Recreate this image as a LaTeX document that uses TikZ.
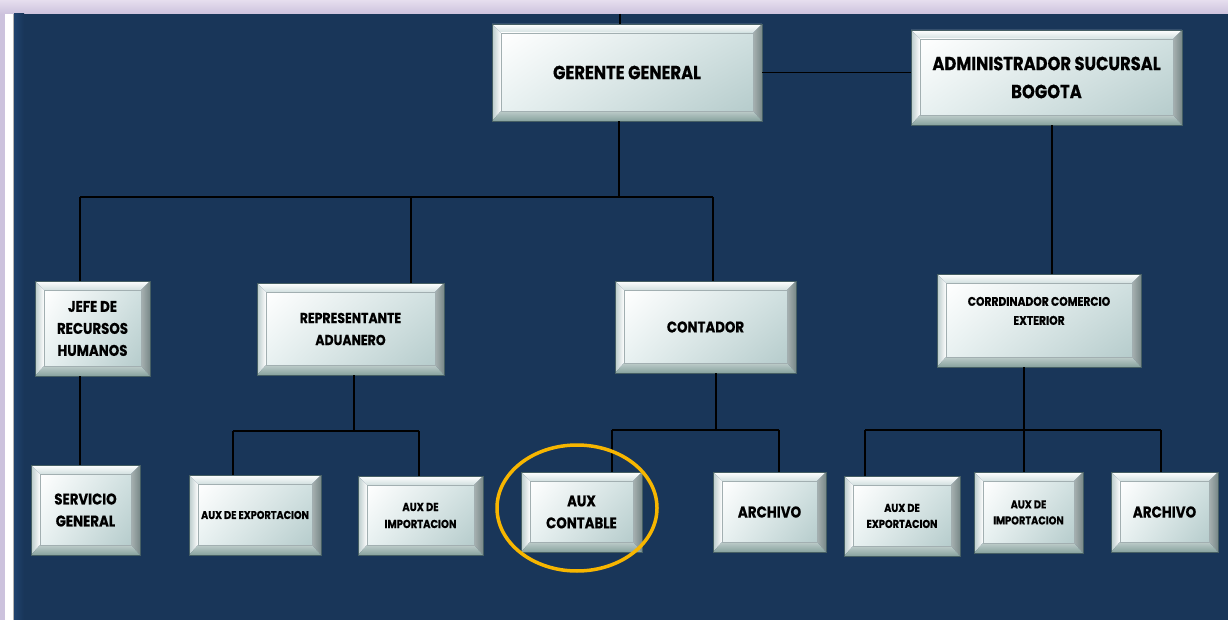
\documentclass[tikz,border=0pt]{standalone}
\usepackage{fontspec}
\usetikzlibrary{shadings}
\setmainfont{Poppins}[FakeStretch=0.86, BoldFeatures={FakeBold=0.4}]
\definecolor{navy}{RGB}{25,54,89}
\definecolor{navyl}{RGB}{32,66,110}
\definecolor{lav}{RGB}{204,194,221}
\definecolor{lavl}{RGB}{230,222,238}
\definecolor{edgec}{RGB}{70,95,100}
\definecolor{bevtop}{RGB}{210,224,224}
\definecolor{bevleft}{RGB}{185,202,202}
\definecolor{bevright}{RGB}{120,136,136}
\definecolor{bevbot}{RGB}{135,162,158}
\definecolor{facea}{RGB}{255,255,255}
\definecolor{faceb}{RGB}{208,224,224}
\definecolor{facec}{RGB}{232,241,241}
\definecolor{faced}{RGB}{182,204,204}
\definecolor{gold}{RGB}{247,182,0}
\tikzset{
  bev/.style={draw=edgec, line width=0.6pt, inner sep=0pt, align=center, text=black,
    path picture={
      \coordinate (pnw) at (path picture bounding box.north west);
      \coordinate (pne) at (path picture bounding box.north east);
      \coordinate (psw) at (path picture bounding box.south west);
      \coordinate (pse) at (path picture bounding box.south east);
      \coordinate (inw) at ([shift={(9pt,-9pt)}]pnw);
      \coordinate (ine) at ([shift={(-9pt,-9pt)}]pne);
      \coordinate (isw) at ([shift={(9pt,10pt)}]psw);
      \coordinate (ise) at ([shift={(-9pt,10pt)}]pse);
      \shade[top color=white, bottom color=bevtop] (pnw) -- (pne) -- (ine) -- (inw) -- cycle;
      \shade[left color=bevleft, right color=white] (pnw) -- (inw) -- (isw) -- (psw) -- cycle;
      \shade[left color=bevright!65!white, right color=bevright] (pne) -- (ine) -- (ise) -- (pse) -- cycle;
      \shade[top color=bevbot!55!white, bottom color=bevbot] (psw) -- (isw) -- (ise) -- (pse) -- cycle;
      \shade[upper left=facea, upper right=faceb, lower left=facec, lower right=faced] (inw) rectangle (ise);
      \draw[edgec!50, line width=0.4pt] (inw) rectangle (ise);
    }},
  fbig/.style={font=\bfseries\fontsize{19}{28}\selectfont},
  fmed/.style={font=\bfseries\fontsize{15.5}{22}\selectfont},
  fsm/.style={font=\bfseries\fontsize{11.4}{16}\selectfont},
  conn/.style={draw=black, line width=1.3pt},
}
\begin{document}
\begin{tikzpicture}[x=1pt,y=-1pt]
\useasboundingbox (0,0) rectangle (1228,620);
% background
\fill[lav] (0,0) rectangle (1228,620);
\shade[top color=lavl, bottom color=lav] (0,0) rectangle (1228,14);
\fill[white] (5,14) rectangle (13,620);
\fill[gray!60] (13,14) rectangle (14,620);
\fill[navy] (14,14) rectangle (1228,620);
\shade[left color=navyl, right color=navy] (14,14) rectangle (24,620);

% connector coordinates
\coordinate (topc) at (620,14);
\coordinate (b1) at (619,197);
\coordinate (b1a) at (80,197);
\coordinate (b1b) at (411,197);
\coordinate (b1c) at (713,197);
\coordinate (ca) at (1052,0);
\coordinate (cb) at (80,0);
\coordinate (r0) at (354,431);
\coordinate (ra) at (233,431);
\coordinate (rb) at (419,431);
\coordinate (k0) at (716,430);
\coordinate (ka) at (612,430);
\coordinate (kb) at (779,430);
\coordinate (d0) at (1024,430);
\coordinate (da) at (865,430);
\coordinate (db) at (1161,430);

% boxes
\node[bev, fbig, minimum width=270pt, minimum height=97pt] (gg) at (627,72.5) {GERENTE GENERAL};
\node[bev, fbig, minimum width=271pt, minimum height=95pt] (adm) at (1046.5,77.5) {ADMINISTRADOR SUCURSAL\\BOGOTA};
\node[bev, fmed, minimum width=115pt, minimum height=95pt] (jefe) at (92.5,328.5) {JEFE DE\\RECURSOS\\HUMANOS};
\node[bev, font=\bfseries\fontsize{14.5}{22}\selectfont, minimum width=187pt, minimum height=92pt] (rep) at (350.5,329) {REPRESENTANTE\\ADUANERO};
\node[bev, fmed, minimum width=181pt, minimum height=92pt] (cont) at (705.5,327) {CONTADOR};
\node[bev, font=\bfseries\fontsize{12.5}{19}\selectfont, minimum width=204pt, minimum height=93pt] (coord) at (1039,320.5) {\raisebox{6pt}[0pt][0pt]{\begin{tabular}{@{}c@{}}CORRDINADOR COMERCIO\\EXTERIOR\end{tabular}}};
\node[bev, fmed, minimum width=109pt, minimum height=90pt] (serv) at (85.5,510) {SERVICIO\\GENERAL};
\node[bev, font=\bfseries\fontsize{11.3}{17}\selectfont, minimum width=132pt, minimum height=80pt] (aexp) at (255,515) {AUX DE EXPORTACION};
\node[bev, font=\bfseries\fontsize{11.6}{17}\selectfont, minimum width=125pt, minimum height=79pt] (aimp) at (420.5,515.5) {AUX DE\\IMPORTACION};
\node[bev, fmed, minimum width=121pt, minimum height=80pt] (acont) at (581.5,512) {AUX\\CONTABLE};
\node[bev, font=\bfseries\fontsize{15.7}{22}\selectfont, minimum width=113pt, minimum height=80pt] (arch) at (769.5,512) {ARCHIVO};
\node[bev, fsm, minimum width=116pt, minimum height=80pt] (aexp2) at (902,516) {AUX DE\\EXPORTACION};
\node[bev, fsm, minimum width=109pt, minimum height=81pt] (aimp2) at (1028.5,512.5) {AUX DE\\IMPORTACION};
\node[bev, font=\bfseries\fontsize{15.7}{22}\selectfont, minimum width=107pt, minimum height=80pt] (arch2) at (1164.5,512) {ARCHIVO};

% connectors by name
\draw[conn] (topc) -- (topc |- gg.north);
\draw[conn] (gg.east) -- (gg.east -| adm.west);
\draw[conn] (gg.south -| b1) -- (b1);
\draw[conn] (b1a) -- (b1c);
\draw[conn] (b1a) -- (jefe.north -| b1a);
\draw[conn] (b1b) -- (rep.north -| b1b);
\draw[conn] (b1c) -- (cont.north -| b1c);
\draw[conn] (adm.south -| ca) -- (coord.north -| ca);
\draw[conn] (jefe.south -| cb) -- (serv.north -| cb);
\draw[conn] (rep.south -| r0) -- (r0);
\draw[conn] (ra) -- (rb);
\draw[conn] (ra) -- (aexp.north -| ra);
\draw[conn] (rb) -- (aimp.north -| rb);
\draw[conn] (cont.south -| k0) -- (k0);
\draw[conn] (ka) -- (kb);
\draw[conn] (ka) -- (acont.north -| ka);
\draw[conn] (kb) -- (arch.north -| kb);
\draw[conn] (coord.south -| d0) -- (d0);
\draw[conn] (da) -- (db);
\draw[conn] (da) -- (aexp2.north -| da);
\draw[conn] (d0) -- (aimp2.north -| d0);
\draw[conn] (db) -- (arch2.north -| db);

% highlight
\draw[gold, line width=3.5pt] (577,508) ellipse [x radius=80, y radius=63];
\end{tikzpicture}
\end{document}
